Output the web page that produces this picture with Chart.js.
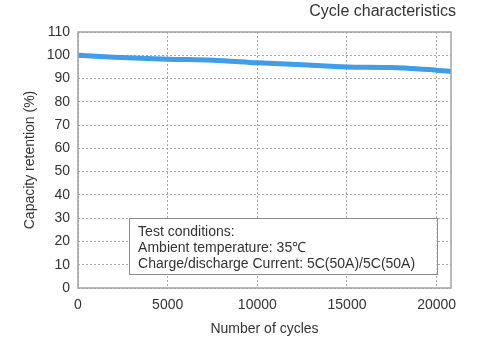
<!DOCTYPE html>
<html>
<head>
<meta charset="utf-8">
<script src="https://cdn.jsdelivr.net/npm/chart.js@4"></script>
<style>
  html, body { margin: 0; padding: 0; background: #ffffff; }
  #wrap { width: 480px; height: 341px; }
</style>
</head>
<body>
<div id="wrap"><canvas id="c" width="480" height="341"></canvas></div>
<script>
// Capacity retention versus cycle count
const cycles    = [0, 2000, 5000, 7500, 10000, 12500, 15000, 17500, 20000, 20800];
const retention = [100, 99.2, 98.3, 97.9, 96.8, 95.9, 95.0, 94.7, 93.6, 93.0];
const xTicks    = [0, 5000, 10000, 15000, 20000];

const chartTitle = 'Cycle characteristics';
const xTitle = 'Number of cycles';
const yTitle = 'Capacity retention (%)';
const noteLines = [
  'Test conditions:',
  'Ambient temperature: 35\u2103',
  'Charge/discharge Current: 5C(50A)/5C(50A)'
];
// note box extent in data units: [xFrom, xTo, yFrom, yTo]
const noteBox = [2850, 20000, 6, 30];

const FONT = '"Liberation Sans", Arial, sans-serif';
const TEXT = '#333333';

const framePlugin = {
  id: 'frameAndNotes',
  afterDraw(chart) {
    const { ctx, chartArea: a, scales: { x, y } } = chart;
    ctx.save();
    // plot frame
    ctx.strokeStyle = '#a3a3a3';
    ctx.lineWidth = 1.5;
    ctx.strokeRect(a.left, a.top, a.right - a.left, a.bottom - a.top);

    // note box
    const bx0 = x.getPixelForValue(noteBox[0]);
    const bx1 = x.getPixelForValue(noteBox[1]);
    const by0 = y.getPixelForValue(noteBox[3]);
    const by1 = y.getPixelForValue(noteBox[2]);
    ctx.fillStyle = '#ffffff';
    ctx.fillRect(bx0, by0, bx1 - bx0, by1 - by0);
    ctx.strokeStyle = '#8c8c8c';
    ctx.lineWidth = 1;
    ctx.strokeRect(Math.round(bx0) + 0.5, Math.round(by0) + 0.5, Math.round(bx1 - bx0), Math.round(by1 - by0));
    ctx.fillStyle = TEXT;
    ctx.font = '14px ' + FONT;
    ctx.textAlign = 'left';
    ctx.textBaseline = 'middle';
    noteLines.forEach((t, i) => ctx.fillText(t, bx0 + 9, by0 + 14 + i * 16));

    // chart title, top right
    ctx.font = '16px ' + FONT;
    ctx.textAlign = 'right';
    ctx.fillText(chartTitle, 456, 12);
    ctx.restore();
  }
};

new Chart(document.getElementById('c'), {
  type: 'line',
  data: {
    datasets: [{
      data: cycles.map((c, i) => ({ x: c, y: retention[i] })),
      borderColor: '#3f9dea',
      borderWidth: 5,
      pointRadius: 0,
      tension: 0.3,
      fill: false
    }]
  },
  options: {
    responsive: false,
    animation: false,
    layout: { padding: { top: 32, right: 29, bottom: 0, left: 0 } },
    plugins: { legend: { display: false }, tooltip: { enabled: false } },
    scales: {
      x: {
        type: 'linear',
        min: 0,
        max: 20800,
        afterBuildTicks(s) { s.ticks = xTicks.map(v => ({ value: v })); },
        ticks: {
          color: TEXT,
          font: { family: FONT, size: 14 },
          padding: 9,
          maxRotation: 0,
          autoSkip: false,
          callback: v => String(v)
        },
        grid: { color: '#a8a8a8', lineWidth: 1, drawTicks: false, tickLength: 0 },
        border: { display: false, dash: [2, 2] },
        title: { display: true, text: xTitle, color: TEXT, font: { family: FONT, size: 14 }, padding: { top: 0, bottom: 3 } },
        afterFit(s) { s.height = 53; }
      },
      y: {
        min: 0,
        max: 110,
        ticks: {
          stepSize: 10,
          color: TEXT,
          font: { family: FONT, size: 14 },
          padding: 8
        },
        grid: { color: '#a8a8a8', lineWidth: 1, drawTicks: false, tickLength: 0 },
        border: { display: false, dash: [2, 2] },
        title: { display: true, text: yTitle, color: TEXT, font: { family: FONT, size: 14 }, padding: { top: 22, bottom: 0 } },
        afterFit(s) { s.width = 78; }
      }
    }
  },
  plugins: [framePlugin]
});
</script>
</body>
</html>
